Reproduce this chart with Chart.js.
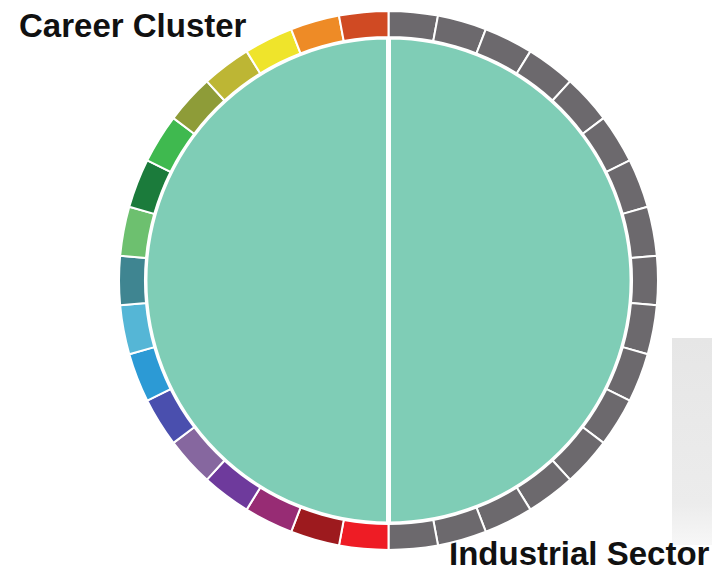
<!DOCTYPE html>
<html>
<head>
<meta charset="utf-8">
<script src="https://cdn.jsdelivr.net/npm/chart.js@4"></script>
<style>
  html, body { margin: 0; padding: 0; background: #fff; }
  body { width: 712px; height: 583px; position: relative; overflow: hidden; font-family: "Liberation Sans", Arial, sans-serif; }
  #wrap { position: absolute; left: 118px; top: 10px; width: 541px; height: 541px; }
  .label { position: absolute; font-weight: bold; font-size: 33px; line-height: 1; color: #111; white-space: nowrap; }
  #shade { position: absolute; left: 672px; top: 338px; width: 40px; height: 207px;
           background: linear-gradient(#e6e6e6, #ececec 80%, #f7f7f7); }
</style>
</head>
<body>
<div id="shade"></div>
<div class="label" style="left:19px; top:9px;">Career Cluster</div>
<div class="label" style="left:449px; top:537px;">Industrial Sector</div>
<div id="wrap"><canvas id="ring"></canvas></div>
<script>
// Outer ring: 17 industrial sectors (right half, top to bottom) then 17 career clusters (left half, bottom to top)
const sectorLabels = ["Sector 1","Sector 2","Sector 3","Sector 4","Sector 5","Sector 6","Sector 7","Sector 8","Sector 9",
  "Sector 10","Sector 11","Sector 12","Sector 13","Sector 14","Sector 15","Sector 16","Sector 17"]
const clusterLabels = ["Cluster 17","Cluster 16","Cluster 15","Cluster 14","Cluster 13","Cluster 12","Cluster 11","Cluster 10",
  "Cluster 9","Cluster 8","Cluster 7","Cluster 6","Cluster 5","Cluster 4","Cluster 3","Cluster 2","Cluster 1"]
const sectorValues = [1,1,1,1,1,1,1,1,1,1,1,1,1,1,1,1,1]
const clusterValues = [1,1,1,1,1,1,1,1,1,1,1,1,1,1,1,1,1]
const clusterColors = ["#ee1c25","#9d1a1e","#972c74","#6e3a9c","#86679f","#4a4fae","#2c9ad5","#55b6d6","#3f8591",
  "#6dc06f","#1b7b3b","#3fb94f","#8e9c38","#bdb634","#efe42b","#ee8b26","#d04a23"]
const sectorColor = "#6c696d"

// Inner pie: two halves
const halfLabels = ["Industrial Sector", "Career Cluster"]
const halfValues = [1, 1]
const halfColor = "#7fcdb6"

let ringLabels = sectorLabels.concat(clusterLabels)
let ringValues = sectorValues.concat(clusterValues)
let ringColors = sectorValues.map(() => sectorColor).concat(clusterColors)

const ctx = document.getElementById('ring').getContext('2d')
new Chart(ctx, {
  type: 'doughnut',
  data: {
    labels: ringLabels,
    datasets: [
      {
        label: "Outer",
        data: ringValues,
        backgroundColor: ringColors,
        borderColor: "#ffffff",
        borderWidth: 2,
        hoverOffset: 0,
        weight: 26
      },
      {
        label: "Inner",
        data: halfValues,
        backgroundColor: halfValues.map(() => halfColor),
        borderColor: "#ffffff",
        borderWidth: 5,
        hoverOffset: 0,
        weight: 244
      }
    ]
  },
  options: {
    responsive: true,
    maintainAspectRatio: false,
    animation: false,
    cutout: 0,
    layout: { padding: 0 },
    plugins: {
      legend: { display: false },
      tooltip: { enabled: false }
    }
  }
})
</script>
</body>
</html>
